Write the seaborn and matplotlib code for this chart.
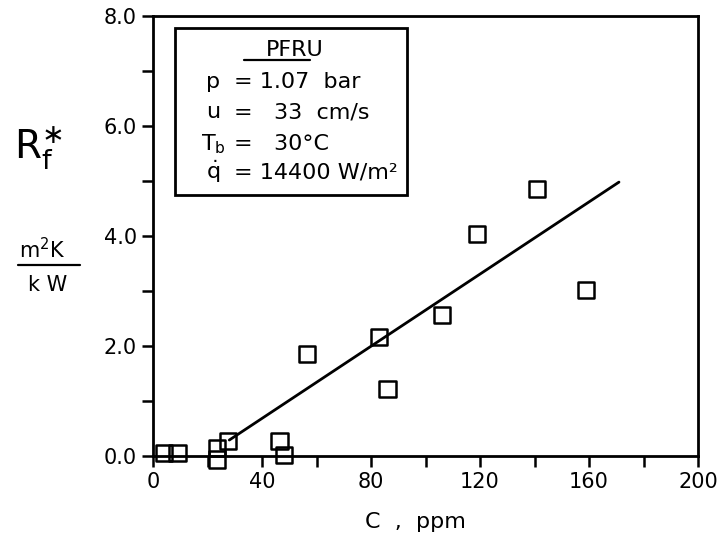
import matplotlib
matplotlib.use("Agg")
import matplotlib.pyplot as plt
import matplotlib.patches as mpatches
import seaborn as sns
import pandas as pd

# Measured fouling resistance vs. concentration
conc_ppm = [4, 9, 23.5, 23.5, 27.5, 46.5, 48, 56.5, 83, 86, 106, 119, 141, 159]
rf_star = [0.05, 0.05, 0.15, -0.06, 0.27, 0.27, 0.02, 1.85, 2.16, 1.22, 2.56, 4.04, 4.85, 3.02]

# Fitted trend line end points
fit_c = [28, 171]
fit_r = [0.29, 4.98]

x_ticks = [0, 40, 80, 120, 160, 200]
y_ticks = [0.0, 2.0, 4.0, 6.0, 8.0]
y_tick_labels = ["0.0", "2.0", "4.0", "6.0", "8.0"]

sns.set_theme(style="ticks")
plt.rcParams["font.family"] = ["DejaVu Sans"]
plt.rcParams["text.color"] = "black"
plt.rcParams["axes.labelcolor"] = "black"

W, H = 725, 540
fig = plt.figure(figsize=(W / 100, H / 100), dpi=100)
ax = fig.add_axes([153 / W, 1 - 456 / H, (698 - 153) / W, (456 - 16) / H])

df = pd.DataFrame({"C": conc_ppm, "Rf": rf_star})
fit_df = pd.DataFrame({"C": fit_c, "Rf": fit_r})

sns.lineplot(data=fit_df, x="C", y="Rf", ax=ax, color="black", linewidth=2.0)
sns.scatterplot(data=df, x="C", y="Rf", ax=ax, marker="s", s=140,
                facecolor="none", edgecolor="black", linewidth=1.8, zorder=3,
                clip_on=False)

ax.set_xlim(0, 200)
ax.set_ylim(0, 8.0)
ax.set_xticks(x_ticks)
ax.set_xticks(list(range(20, 200, 40)), minor=True)
ax.set_yticks(y_ticks)
ax.set_yticklabels(y_tick_labels)
ax.set_yticks([1.0, 3.0, 5.0, 7.0], minor=True)
ax.tick_params(axis="both", which="major", direction="out", length=8, width=1.8,
               labelsize=15, color="black", labelcolor="black")
ax.tick_params(axis="both", which="minor", direction="out", length=8, width=1.8, color="black")
for sp in ax.spines.values():
    sp.set_visible(True)
    sp.set_linewidth(2.0)
    sp.set_color("black")
ax.set_xlabel("")
ax.set_ylabel("")
ax.grid(False)

# axis titles
fig.text(415 / W, 1 - 522 / H, "C  ,  ppm", fontsize=16, ha="center", va="center")
fig.text(38 / W, 1 - 148 / H, r"$\mathregular{R_f^{\ast}}$", fontsize=28, ha="center", va="center")
fig.text(42 / W, 1 - 250 / H, r"$\mathregular{m^2K}$", fontsize=15, ha="center", va="center")
fig.add_artist(plt.Line2D([18 / W, 80 / W], [1 - 265 / H, 1 - 265 / H], color="black", linewidth=1.6))
fig.text(48 / W, 1 - 285 / H, "k W", fontsize=15, ha="center", va="center")

# parameter box
fig.add_artist(mpatches.Rectangle((175 / W, 1 - 195 / H), (407 - 175) / W, (195 - 28) / H,
                                  transform=fig.transFigure, fill=False,
                                  edgecolor="black", linewidth=2.0))
fig.text(295 / W, 1 - 50 / H, "PFRU", fontsize=16, ha="center", va="center")
fig.add_artist(plt.Line2D([244 / W, 310 / W], [1 - 60 / H, 1 - 60 / H], color="black", linewidth=1.6))

rows = [
    (r"p", "= 1.07  bar", 82),
    (r"u", "=   33  cm/s", 112),
    (r"$\mathregular{T_b}$", "=   30°C", 144),
    (r"$\dot{\mathregular{q}}$", "= 14400 W/m²", 172),
]
for sym, val, yy in rows:
    fig.text(213 / W, 1 - yy / H, sym, fontsize=16, ha="center", va="center")
    fig.text(234 / W, 1 - yy / H, val, fontsize=16, ha="left", va="center")

fig.savefig("out.png", dpi=100, facecolor="white")
